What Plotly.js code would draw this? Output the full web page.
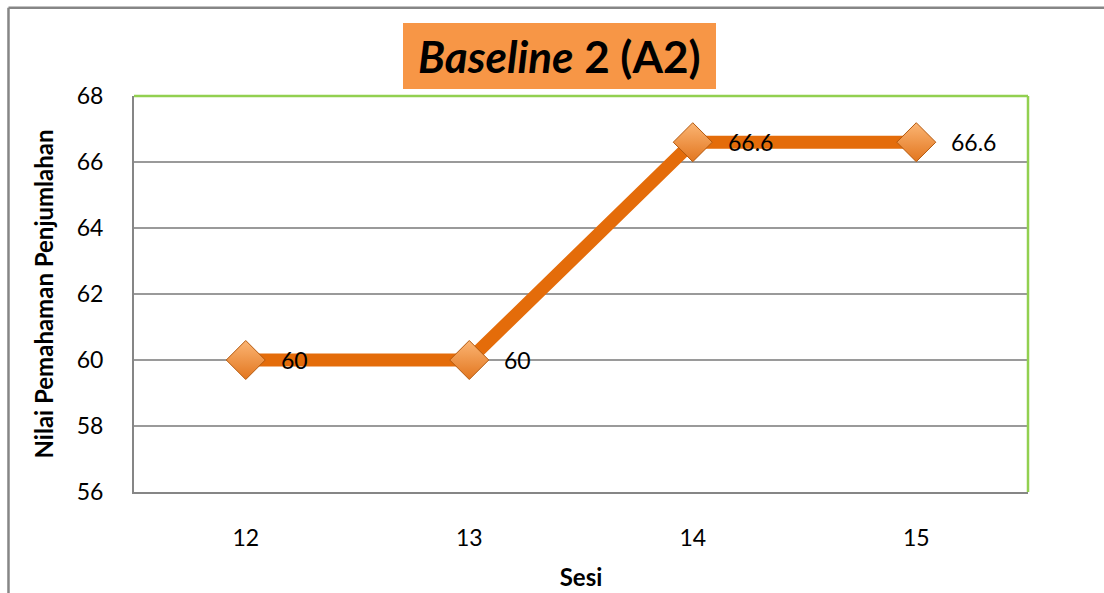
<!DOCTYPE html>
<html>
<head>
<meta charset="utf-8">
<script src="https://cdn.plot.ly/plotly-3.0.1.min.js"></script>
<style>
  html, body { margin: 0; padding: 0; background: #ffffff; }
  #chart { width: 1104px; height: 593px; }
</style>
</head>
<body>
<div id="chart"></div>
<script>
// Session numbers and comprehension scores for Baseline 2 (A2)
const sessions = ['12', '13', '14', '15'];
const scores = [60, 60, 66.6, 66.6];
const yTicks = [56, 58, 60, 62, 64, 66, 68];

const FONT = 'Lato, "Liberation Sans", Arial, sans-serif';
const GRAY = '#868686';
const GREEN = '#92D050';

const trace = {
  x: sessions,
  y: scores,
  type: 'scatter',
  mode: 'lines+markers',
  line: { color: '#E46C0A', width: 13 },
  marker: {
    symbol: 'diamond',
    size: 30,
    color: '#FBB574',
    gradient: { type: 'vertical', color: '#E2761F' },
    line: { color: '#B4580C', width: 1 }
  },
  hoverinfo: 'skip',
  cliponaxis: false
};

// value labels sit to the right of each point (x given as category index)
const valueLabels = scores.map((v, i) => ({
  x: i, y: v, xref: 'x', yref: 'y',
  text: String(v),
  showarrow: false, xanchor: 'left', yanchor: 'middle',
  xshift: 33,
  font: { family: FONT, size: 23, color: '#000000' }
}));

const layout = {
  width: 1104,
  height: 593,
  margin: { l: 134, r: 76, t: 96, b: 101 },
  paper_bgcolor: '#ffffff',
  plot_bgcolor: '#ffffff',
  showlegend: false,
  font: { family: FONT, color: '#000000' },
  xaxis: {
    type: 'category',
    range: [-0.5, 3.5],
    showgrid: false,
    zeroline: false,
    showline: true,
    linecolor: GRAY,
    linewidth: 2,
    ticks: '',
    ticklabelstandoff: 24,
    tickfont: { family: FONT, size: 23, color: '#000000' },
    title: { text: '<b>Sesi</b>', font: { family: FONT, size: 24, color: '#000000' }, standoff: 20 }
  },
  yaxis: {
    range: [56, 68],
    tickvals: yTicks,
    ticktext: yTicks.map(String),
    showgrid: true,
    gridcolor: '#9a9a9a',
    gridwidth: 1.5,
    zeroline: false,
    showline: true,
    linecolor: GRAY,
    linewidth: 2,
    ticks: '',
    ticklabelstandoff: 24,
    tickfont: { family: FONT, size: 23, color: '#000000' },
    title: { text: '<b>Nilai Pemahaman Penjumlahan</b>', font: { family: FONT, size: 24, color: '#000000' }, standoff: 16 }
  },
  shapes: [
    // outer chart frame (left and top edges)
    { type: 'line', xref: 'paper', yref: 'paper', x0: -0.1404, x1: -0.1404, y0: -0.3, y1: 1.2227,
      line: { color: GRAY, width: 2.5 } },
    { type: 'line', xref: 'paper', yref: 'paper', x0: -0.1404, x1: 1.1, y0: 1.2227, y1: 1.2227,
      line: { color: GRAY, width: 2.5 } },
    // green top and right plot-area borders
    { type: 'line', xref: 'paper', yref: 'paper', x0: 0, x1: 1, y0: 1, y1: 1,
      line: { color: GREEN, width: 2.5 } },
    { type: 'line', xref: 'paper', yref: 'paper', x0: 1, x1: 1, y0: 0, y1: 1,
      line: { color: GREEN, width: 2.5 } },
    // title background box
    { type: 'rect', xref: 'paper', yref: 'paper', x0: 0.3009, x1: 0.651, y0: 1.0177, y1: 1.1843,
      fillcolor: '#F79646', line: { width: 0 }, layer: 'below' }
  ],
  annotations: [
    { xref: 'paper', yref: 'paper', x: 0.476, y: 1.101, xanchor: 'center', yanchor: 'middle',
      showarrow: false, text: '<b><i>Baseline</i> 2 (A2)</b>',
      font: { family: FONT, size: 44, color: '#000000' } }
  ].concat(valueLabels)
};

Plotly.newPlot('chart', [trace], layout, { displayModeBar: false, staticPlot: true });
</script>
</body>
</html>
